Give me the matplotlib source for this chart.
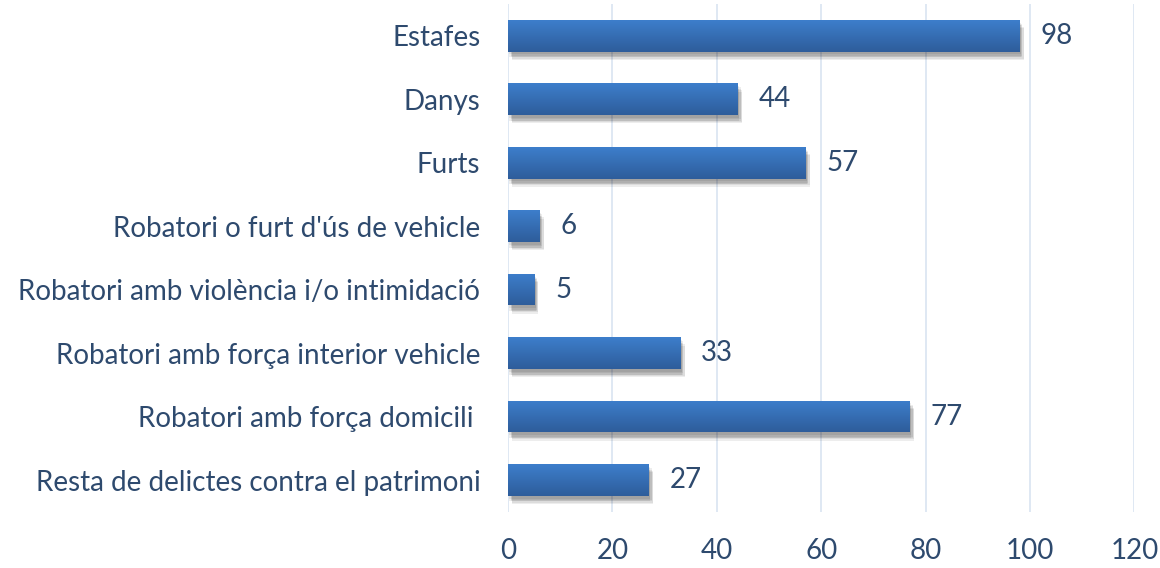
import numpy as np
import matplotlib
matplotlib.use("Agg")
import matplotlib.pyplot as plt
import matplotlib.patheffects as pe
from matplotlib.colors import LinearSegmentedColormap

categories = ["Estafes", "Danys", "Furts", "Robatori o furt d'ús de vehicle",
              "Robatori amb violència i/o intimidació",
              "Robatori amb força interior vehicle",
              "Robatori amb força domicili ",
              "Resta de delictes contra el patrimoni"]
values = [98, 44, 57, 6, 5, 33, 77, 27]
xticks = [0, 20, 40, 60, 80, 100, 120]

txt_color = "#2E4A6E"
plt.rcParams['font.family'] = ['Lato', 'DejaVu Sans']

fig = plt.figure(figsize=(11.6, 5.68), dpi=100)
ax = fig.add_axes([0.438, 0.099, 0.540, 0.894])

ypos = np.arange(len(categories))
bar_h = 0.5
# soft shadow: several faint offset copies
shadow = [pe.SimplePatchShadow(offset=(dx, dy), shadow_rgbFace="#000000", alpha=0.07)
          for dx, dy in [(1, -2), (2, -3), (2, -4), (3, -5), (3, -6), (1, -4)]]
bars = ax.barh(ypos, values, height=bar_h, color="#3569B0", zorder=2,
               path_effects=shadow + [pe.Normal()])

# vertical gradient on each bar, light at top, dark at bottom
grad = LinearSegmentedColormap.from_list("g", ["#3D7ECB", "#2E5D9B"])
gimg = np.linspace(0, 1, 64).reshape(-1, 1)
for b in bars:
    x0, y0 = b.get_x(), b.get_y()
    w, h = b.get_width(), b.get_height()
    im = ax.imshow(gimg, cmap=grad, aspect="auto", zorder=3,
                   extent=[x0, x0 + w, y0 + h, y0], origin="upper")
    im.set_clip_path(b)

for y, v in zip(ypos, values):
    ax.text(v + 4, y, str(v), va="center", ha="left", fontsize=20, color=txt_color, zorder=4)

ax.set_xlim(0, 120)
ax.set_ylim(len(categories) - 0.5, -0.5)
ax.set_xticks(xticks)
ax.set_xticklabels([str(t) for t in xticks])
ax.set_yticks(ypos)
ax.set_yticklabels(categories)
ax.tick_params(axis="both", length=0, labelsize=20, labelcolor=txt_color)
ax.tick_params(axis="x", pad=19)
ax.tick_params(axis="y", pad=20)
ax.grid(axis="x", color="#DCE6F2", linewidth=1.3, zorder=0)
ax.set_axisbelow(True)
for s in ax.spines.values():
    s.set_visible(False)

fig.savefig("out.png", dpi=100, facecolor="white")
